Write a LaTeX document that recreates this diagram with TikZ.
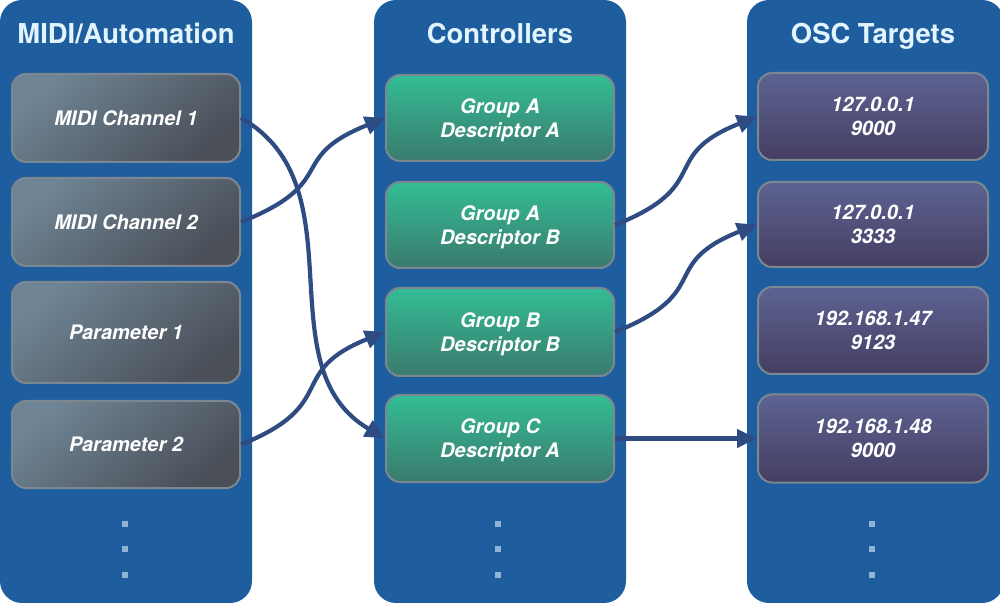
\documentclass[tikz,border=0pt]{standalone}
\usepackage{fontspec}
\setmainfont{TeX Gyre Heros}
\usetikzlibrary{arrows.meta}
\definecolor{panelBlue}{HTML}{1F5E9E}
\definecolor{titleText}{HTML}{E2F4FD}
\definecolor{midiLight}{HTML}{6F8494}
\definecolor{midiDark}{HTML}{4A4F58}
\definecolor{ctrlLight}{HTML}{33BD94}
\definecolor{ctrlDark}{HTML}{3A7A6E}
\definecolor{oscLight}{HTML}{5D6392}
\definecolor{oscDark}{HTML}{453E62}
\definecolor{itemBorder}{HTML}{7B8791}
\definecolor{linkBlue}{HTML}{2E4C82}
\definecolor{dotBlue}{HTML}{8FB4D6}
\newcommand{\titleFont}[0]{\fontsize{13.7}{16}\selectfont\bfseries}
\newcommand{\itemFont}[0]{\fontsize{10}{12}\selectfont\bfseries\itshape}

\begin{document}
\begin{tikzpicture}[x=0.5pt, y=-0.5pt, >={Triangle[length=10pt,width=9pt]}]
  \tikzset{
    panel/.style={fill=panelBlue, rounded corners=11pt},
    title/.style={text=titleText, font=\titleFont, anchor=base},
    item/.style={draw=itemBorder, line width=1pt, rounded corners=7pt,
      minimum width=114pt, minimum height=44pt, inner sep=0pt,
      align=center, text=white, font=\itemFont},
    midi/.style={item, top color=midiLight, bottom color=midiDark, shading angle=40},
    ctrl/.style={item, top color=ctrlLight, bottom color=ctrlDark, text depth=0pt},
    osc/.style={item, top color=oscLight, bottom color=oscDark, minimum width=115pt, text depth=0pt},
    link/.style={->, draw=linkBlue, line width=2.1pt},
    more/.style={fill=dotBlue, minimum size=3pt, inner sep=0pt}
  }
  \useasboundingbox (0,0) rectangle (1000,603);
  \fill[panel] (0,0) rectangle (252,603);
  \fill[panel] (374,0) rectangle (626,603);
  \fill[panel] (747,0) rectangle (1004,603);

  \node[title] (midiTitle) at (126,44) {MIDI/Automation};
  \node[title] (ctrlTitle) at (500,44) {Controllers};
  \node[title] (oscTitle) at (873,44) {OSC Targets};

  % MIDI/Automation
  \node[midi] (midiA) at (126,118) {MIDI Channel 1};
  \node[midi] (midiB) at (126,222) {MIDI Channel 2};
  \node[midi, minimum height=50.5pt] (paramA) at (126,332.5) {Parameter 1};
  \node[midi, minimum height=43.5pt] (paramB) at (126,444.5) {Parameter 2};

  % Controllers
  \node[ctrl, minimum height=43pt] (gaA) at (500,118) {Group A\\Descriptor A};
  \node[ctrl, minimum height=43pt] (gaB) at (500,225) {Group A\\Descriptor B};
  \node[ctrl] (gbB) at (500,332) {Group B\\Descriptor B};
  \node[ctrl, minimum height=43.5pt] (gcA) at (500,438.5) {Group C\\Descriptor A};

  % OSC Targets
  \node[osc, minimum height=43.5pt] (ipA) at (873,116.5) {127.0.0.1\\9000};
  \node[osc, minimum height=42.5pt] (ipB) at (873,224.5) {127.0.0.1\\3333};
  \node[osc, minimum height=43.5pt] (ipC) at (873,330.5) {192.168.1.47\\9123};
  \node[osc] (ipD) at (873,438.5) {192.168.1.48\\9000};

  \node[more] (midiDotA) at (125,524) {};
  \node[more] (midiDotB) at (125,549) {};
  \node[more] (midiDotC) at (125,575) {};
  \node[more] (ctrlDotA) at (498,524) {};
  \node[more] (ctrlDotB) at (498,549) {};
  \node[more] (ctrlDotC) at (498,575) {};
  \node[more] (oscDotA) at (872,524) {};
  \node[more] (oscDotB) at (872,549) {};
  \node[more] (oscDotC) at (872,575) {};

  \draw[link] (midiA.east) .. controls +(120,68) and +(-122,-72) .. (gcA.west);
  \draw[link] (midiB.east) .. controls +(100,-40) and +(-100,40) .. (gaA.west);
  \draw[link] (paramB.east) .. controls +(100,-40) and +(-100,40) .. (gbB.west);
  \draw[link] (gaB.east) .. controls +(100,-40) and +(-100,40) .. (ipA.west);
  \draw[link] (gbB.east) .. controls +(100,-40) and +(-100,40) .. (ipB.west);
  \draw[link] (gcA.east) -- (ipD.west);
\end{tikzpicture}
\end{document}
